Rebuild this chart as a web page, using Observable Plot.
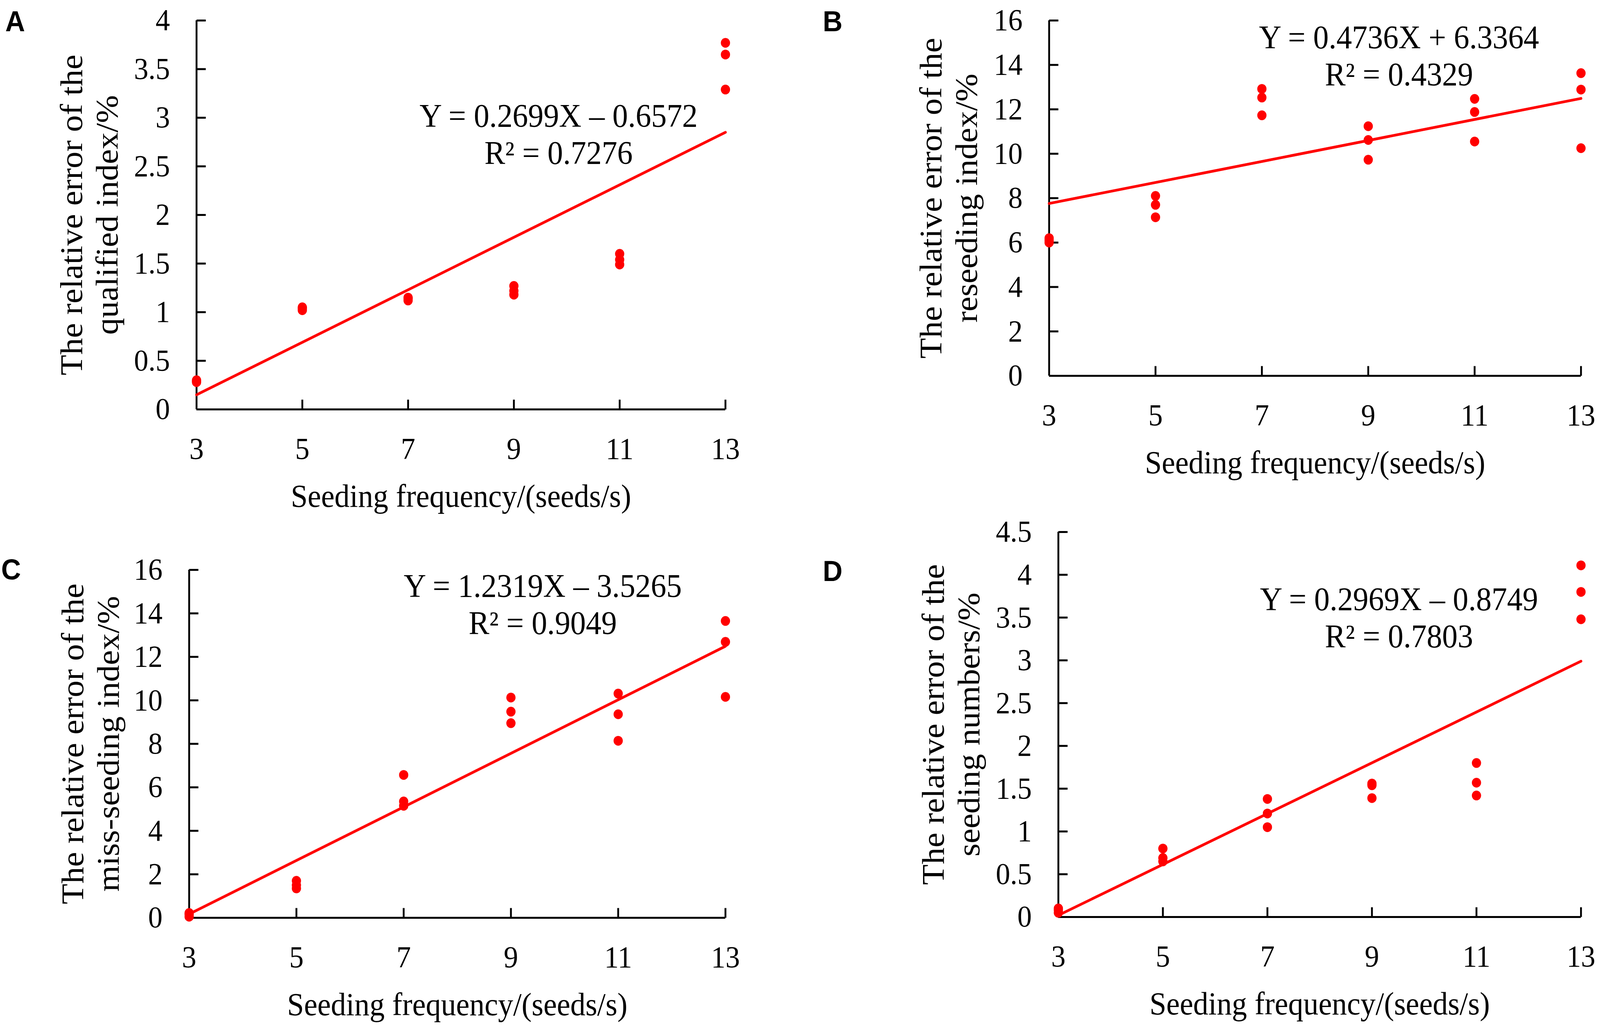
<!DOCTYPE html>
<html>
<head>
<meta charset="utf-8">
<script src="https://cdn.jsdelivr.net/npm/d3@7"></script>
<script src="https://cdn.jsdelivr.net/npm/@observablehq/plot@0.6"></script>
<style>
  html, body { margin: 0; padding: 0; background: #ffffff; overflow: hidden; }
  #fig { position: relative; width: 4335px; height: 2643px; background: #ffffff; overflow: hidden; transform-origin: 0 0; }
  .panel { position: absolute; }
  .letter { position: absolute; font-family: "Liberation Sans", Arial, sans-serif; font-weight: bold; font-size: 74px; line-height: 1; transform: translate(-50%, -50%); color: #000; }
</style>
</head>
<body>
<div id="fig"></div>
<script>
// ---------- data ----------
const seedingFrequency = [3, 5, 7, 9, 11, 13];
const xTickLabels = [3, 5, 7, 9, 11, 13];

// three replicate measurements per seeding frequency
const qualifiedIndexError = [
  [0.28, 0.29, 0.30],
  [1.02, 1.04, 1.05],
  [1.12, 1.14, 1.15],
  [1.18, 1.22, 1.27],
  [1.49, 1.54, 1.60],
  [3.29, 3.65, 3.77]
];
const reseedingIndexError = [
  [6.00, 6.10, 6.20],
  [7.14, 7.70, 8.10],
  [11.73, 12.53, 12.92],
  [9.73, 10.62, 11.24],
  [10.55, 11.88, 12.47],
  [10.25, 12.89, 13.63]
];
const missSeedingIndexError = [
  [0.05, 0.15, 0.22],
  [1.35, 1.50, 1.70],
  [5.15, 5.35, 6.57],
  [8.95, 9.48, 10.13],
  [8.14, 9.36, 10.31],
  [10.16, 12.69, 13.65]
];
const seedingNumbersError = [
  [0.05, 0.08, 0.10],
  [0.65, 0.69, 0.80],
  [1.05, 1.21, 1.38],
  [1.39, 1.54, 1.56],
  [1.42, 1.57, 1.80],
  [3.48, 3.80, 4.11]
];

// fitted trend lines (end points at x = 3 and x = 13)
const fitX = [3, 13];
const qualifiedFitY = [0.15, 2.85];
const reseedingFitY = [7.76, 12.49];
const missSeedingFitY = [0.17, 12.49];
const seedingNumbersFitY = [0.02, 2.99];

const qualifiedYTicks = [0, 0.5, 1, 1.5, 2, 2.5, 3, 3.5, 4];
const reseedingYTicks = [0, 2, 4, 6, 8, 10, 12, 14, 16];
const missSeedingYTicks = [0, 2, 4, 6, 8, 10, 12, 14, 16];
const seedingNumbersYTicks = [0, 0.5, 1, 1.5, 2, 2.5, 3, 3.5, 4, 4.5];

const xTitle = "Seeding frequency/(seeds/s)";
const qualifiedYTitle = "The relative error of the\nqualified index/%";
const reseedingYTitle = "The relative error of the\nreseeding index/%";
const missSeedingYTitle = "The relative error of the\nmiss-seeding index/%";
const seedingNumbersYTitle = "The relative error of the\nseeding numbers/%";

const qualifiedEquation = "Y = 0.2699X – 0.6572\nR² = 0.7276";
const reseedingEquation = "Y = 0.4736X + 6.3364\nR² = 0.4329";
const missSeedingEquation = "Y = 1.2319X – 3.5265\nR² = 0.9049";
const seedingNumbersEquation = "Y = 0.2969X – 0.8749\nR² = 0.7803";

// ---------- helpers ----------
function toPoints(values) {
  const pts = [];
  seedingFrequency.forEach((f, i) => values[i].forEach(v => pts.push({f, v})));
  return pts;
}
function toLine(ys) {
  return fitX.map((f, i) => ({f, v: ys[i]}));
}

const RED = "#ff0000";
const SERIF = "'Liberation Serif', 'Times New Roman', serif";
const TICK_LEN = 25;
const tickRight = {draw(ctx) { ctx.moveTo(0, 0); ctx.lineTo(TICK_LEN, 0); }};
const tickUp = {draw(ctx) { ctx.moveTo(0, 0); ctx.lineTo(0, -TICK_LEN); }};

function panel(cfg) {
  const yMax = cfg.yTicks[cfg.yTicks.length - 1];
  return Plot.plot({
    width: cfg.w,
    height: cfg.h,
    marginLeft: cfg.ml,
    marginRight: cfg.mr,
    marginTop: cfg.mt,
    marginBottom: cfg.mb,
    style: {fontFamily: SERIF, fontSize: "78px", background: "#ffffff", color: "#000", overflow: "visible"},
    x: {domain: [3, 13]},
    y: {domain: [0, yMax]},
    marks: [
      Plot.axisX({ticks: xTickLabels, tickSize: 0, tickPadding: 71, tickFormat: d => String(d), fontSize: 78, label: null}),
      Plot.axisY({ticks: cfg.yTicks, tickSize: 0, tickPadding: 72, tickFormat: d => String(d), fontSize: 78, label: null}),
      Plot.ruleX([3], {stroke: "#000", strokeWidth: 5}),
      Plot.ruleY([0], {stroke: "#000", strokeWidth: 5}),
      Plot.dot(cfg.yTicks.filter(d => d > 0), {x: 3, y: d => d, symbol: tickRight, stroke: "#000", strokeWidth: 5, fill: "none"}),
      Plot.dot(xTickLabels.filter(d => d > 3), {x: d => d, y: 0, symbol: tickUp, stroke: "#000", strokeWidth: 5, fill: "none"}),
      Plot.line(toLine(cfg.fit), {x: "f", y: "v", stroke: RED, strokeWidth: 7}),
      Plot.dot(toPoints(cfg.values), {x: "f", y: "v", r: 12.5, fill: RED}),
      Plot.text([cfg.eq], {frameAnchor: "top-left", dx: cfg.eqDx, dy: cfg.eqDy, text: d => d,
        textAnchor: "middle", lineAnchor: "middle", fontSize: 84, lineHeight: 1.13, fill: "#000"}),
      Plot.text([cfg.yTitle], {frameAnchor: "left", dx: -cfg.yTitleOff, rotate: -90, text: d => d,
        textAnchor: "middle", lineAnchor: "middle", fontSize: 86, lineHeight: 1.12, fill: "#000"}),
      Plot.text([xTitle], {frameAnchor: "bottom", dy: 223, text: d => d,
        textAnchor: "middle", lineAnchor: "middle", fontSize: 82, fill: "#000"})
    ]
  });
}

const panels = [
  {letter: "A", lx: 41, ly: 55, left: 0, top: 0, w: 2170, h: 1320, ml: 532, mr: 205, mt: 52, mb: 272,
   yTicks: qualifiedYTicks, values: qualifiedIndexError, fit: qualifiedFitY, eq: qualifiedEquation,
   eqDx: 981, eqDy: 290, yTitle: qualifiedYTitle, yTitleOff: 293},
  {letter: "B", lx: 2256, ly: 55, left: 2170, top: 0, w: 2165, h: 1320, ml: 672, mr: 52, mt: 52, mb: 358,
   yTicks: reseedingYTicks, values: reseedingIndexError, fit: reseedingFitY, eq: reseedingEquation,
   eqDx: 948, eqDy: 89, yTitle: reseedingYTitle, yTitleOff: 275},
  {letter: "C", lx: 30, ly: 1459, left: 0, top: 1320, w: 2170, h: 1323, ml: 512, mr: 205, mt: 139, mb: 293,
   yTicks: missSeedingYTicks, values: missSeedingIndexError, fit: missSeedingFitY, eq: missSeedingEquation,
   eqDx: 958, eqDy: 87, yTitle: missSeedingYTitle, yTitleOff: 270},
  {letter: "D", lx: 2256, ly: 1463, left: 2170, top: 1320, w: 2165, h: 1323, ml: 697, mr: 52, mt: 42, mb: 295,
   yTicks: seedingNumbersYTicks, values: seedingNumbersError, fit: seedingNumbersFitY, eq: seedingNumbersEquation,
   eqDx: 923, eqDy: 218, yTitle: seedingNumbersYTitle, yTitleOff: 293}
];

const fig = document.getElementById("fig");
for (const cfg of panels) {
  const div = document.createElement("div");
  div.className = "panel";
  div.style.left = cfg.left + "px";
  div.style.top = cfg.top + "px";
  div.style.width = cfg.w + "px";
  div.style.height = cfg.h + "px";
  div.appendChild(panel(cfg));
  fig.appendChild(div);
}
for (const cfg of panels) {
  const l = document.createElement("div");
  l.className = "letter";
  l.style.left = cfg.lx + "px";
  l.style.top = cfg.ly + "px";
  l.textContent = cfg.letter;
  fig.appendChild(l);
}
// make the 4335×2643 figure fill the actual viewport
const sx = window.innerWidth / 4335;
const sy = window.innerHeight / 2643;
if (Math.abs(sx - 1) > 0.001 || Math.abs(sy - 1) > 0.001) {
  fig.style.transform = `scale(${sx}, ${sy})`;
}
</script>
</body>
</html>
